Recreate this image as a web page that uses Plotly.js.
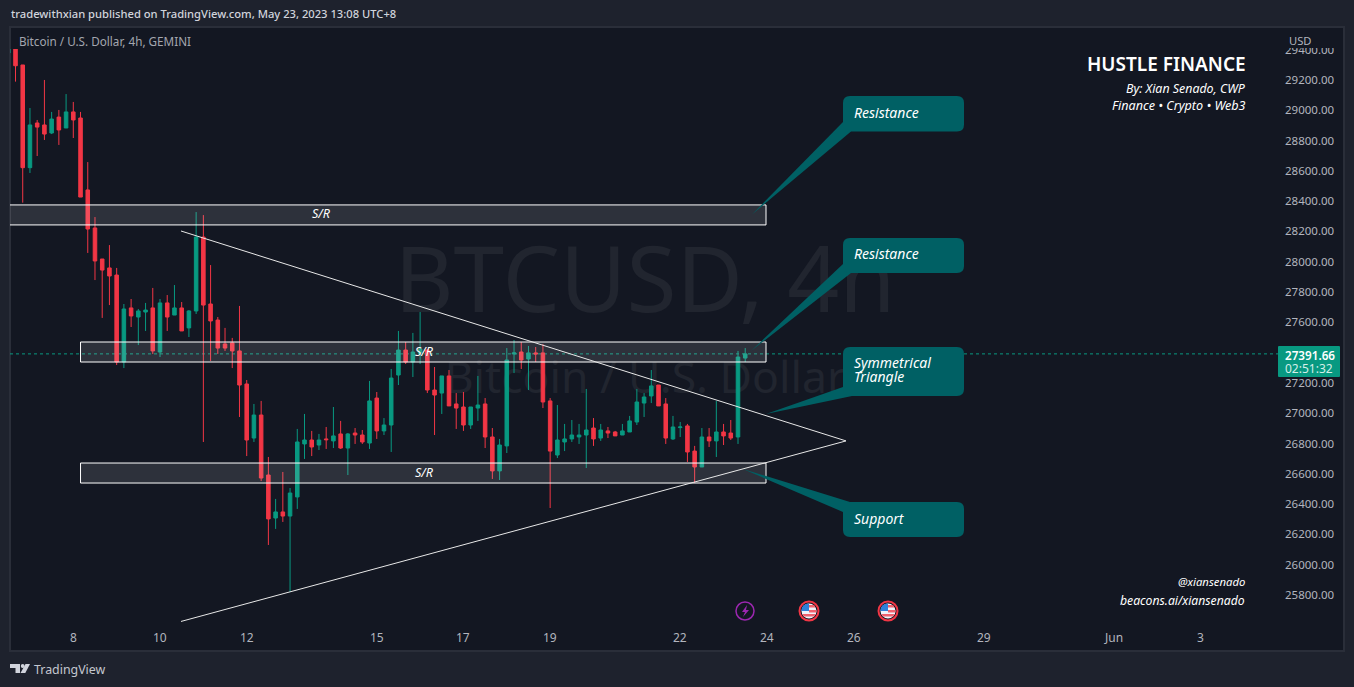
<!DOCTYPE html>
<html>
<head>
<meta charset="utf-8">
<script src="https://cdn.plot.ly/plotly-3.0.1.min.js"></script>
<style>html,body{margin:0;padding:0;background:#1e222d;overflow:hidden}#chart{width:1354px;height:687px}</style>
</head>
<body>
<div id="chart"></div>
<script>
const times = [
'2023-05-06 12:00','2023-05-06 16:00','2023-05-06 20:00',
'2023-05-07 00:00','2023-05-07 04:00','2023-05-07 08:00','2023-05-07 12:00','2023-05-07 16:00','2023-05-07 20:00',
'2023-05-08 00:00','2023-05-08 04:00','2023-05-08 08:00','2023-05-08 12:00','2023-05-08 16:00','2023-05-08 20:00',
'2023-05-09 00:00','2023-05-09 04:00','2023-05-09 08:00','2023-05-09 12:00','2023-05-09 16:00','2023-05-09 20:00',
'2023-05-10 00:00','2023-05-10 04:00','2023-05-10 08:00','2023-05-10 12:00','2023-05-10 16:00','2023-05-10 20:00',
'2023-05-11 00:00','2023-05-11 04:00','2023-05-11 08:00','2023-05-11 12:00','2023-05-11 16:00','2023-05-11 20:00',
'2023-05-12 00:00','2023-05-12 04:00','2023-05-12 08:00','2023-05-12 12:00','2023-05-12 16:00','2023-05-12 20:00',
'2023-05-13 00:00','2023-05-13 04:00','2023-05-13 08:00','2023-05-13 12:00','2023-05-13 16:00','2023-05-13 20:00',
'2023-05-14 00:00','2023-05-14 04:00','2023-05-14 08:00','2023-05-14 12:00','2023-05-14 16:00','2023-05-14 20:00',
'2023-05-15 00:00','2023-05-15 04:00','2023-05-15 08:00','2023-05-15 12:00','2023-05-15 16:00','2023-05-15 20:00',
'2023-05-16 00:00','2023-05-16 04:00','2023-05-16 08:00','2023-05-16 12:00','2023-05-16 16:00','2023-05-16 20:00',
'2023-05-17 00:00','2023-05-17 04:00','2023-05-17 08:00','2023-05-17 12:00','2023-05-17 16:00','2023-05-17 20:00',
'2023-05-18 00:00','2023-05-18 04:00','2023-05-18 08:00','2023-05-18 12:00','2023-05-18 16:00','2023-05-18 20:00',
'2023-05-19 00:00','2023-05-19 04:00','2023-05-19 08:00','2023-05-19 12:00','2023-05-19 16:00','2023-05-19 20:00',
'2023-05-20 00:00','2023-05-20 04:00','2023-05-20 08:00','2023-05-20 12:00','2023-05-20 16:00','2023-05-20 20:00',
'2023-05-21 00:00','2023-05-21 04:00','2023-05-21 08:00','2023-05-21 12:00','2023-05-21 16:00','2023-05-21 20:00',
'2023-05-22 00:00','2023-05-22 04:00','2023-05-22 08:00','2023-05-22 12:00','2023-05-22 16:00','2023-05-22 20:00',
'2023-05-23 00:00','2023-05-23 04:00','2023-05-23 08:00','2023-05-23 12:00'];
const opens = [29378,29500,29299,28621,28916,28903,28850,28955,28883,28989,28949,28474,28223,28018,27959,27912,27338,27695,27635,27668,27695,27404,27728,27648,27695,27563,27675,28163,27721,27615,27457,27464,27411,27193,26836,26988,26592,26308,26348,26321,26447,26797,26823,26790,26830,26817,26863,26770,26869,26856,26803,27100,26883,26922,27252,27417,27338,27398,27417,27153,27133,27246,27061,27041,26922,27034,27061,26843,26619,26784,27391,27404,27358,27398,27398,27081,26724,26810,26830,26843,26856,26902,26836,26883,26876,26856,26876,26942,27067,27114,27186,27061,26830,26905,26916,26750,26645,26843,26817,26876,26869,26843,27364];
const highs = [29500,29520,29299,29015,28936,29200,28989,29002,29107,29055,28989,28658,28295,28018,28110,27959,27721,27754,27688,27728,27827,27754,27780,27846,27734,27681,28328,28308,27978,27635,27563,27497,27708,27219,27061,27081,26711,26434,26612,26506,26896,26995,26883,26863,26909,27041,26949,26869,26902,26889,27213,27140,26968,27292,27543,27470,27530,27668,27424,27305,27246,27285,27133,27140,27041,27246,27100,26902,26830,27430,27483,27470,27444,27437,27457,27100,27054,26929,26955,26929,27160,26968,26929,26909,26883,26929,26982,27160,27133,27285,27186,27100,26982,26942,26929,26784,26902,26902,27081,26929,26955,27411,27430];
const lows = [29378,29189,28390,28586,28698,28804,28843,28771,28883,28817,28427,28058,27879,27629,27714,27318,27298,27569,27450,27543,27391,27371,27543,27648,27543,27503,27655,26810,27345,27391,27411,27298,26975,26717,26810,26552,26130,26236,26282,25820,26368,26698,26717,26757,26764,26770,26764,26592,26797,26797,26764,26830,26856,26744,27186,27325,27239,27325,27133,26856,26995,27048,26896,26883,26896,26949,26770,26566,26559,26737,27265,27292,27153,27338,27034,26374,26704,26750,26810,26797,26638,26784,26817,26836,26850,26856,26876,26922,26975,27067,27048,26797,26823,26843,26678,26539,26645,26777,26711,26790,26823,26797,27338];
const closes = [29500,29294,28621,28903,28889,28843,28942,28870,28989,28936,28427,28216,28005,27945,27906,27338,27688,27642,27675,27681,27411,27728,27635,27695,27543,27675,28163,27714,27609,27430,27430,27411,27186,26823,26988,26572,26302,26348,26321,26473,26810,26823,26777,26823,26825,26850,26770,26863,26856,26810,27081,26883,26922,27232,27417,27338,27404,27424,27153,27120,27246,27048,27034,26922,27041,27054,26843,26619,26790,27351,27398,27351,27398,27391,27074,26750,26823,26830,26856,26856,26889,26830,26889,26869,26850,26883,26949,27074,27107,27180,27048,26836,26909,26909,26744,26645,26843,26817,26876,26850,26836,27371,27391.66];

const priceTicks = [25800,26000,26200,26400,26600,26800,27000,27200,27400,27600,27800,28000,28200,28400,28600,28800,29000,29200,29400];
const dateTicks = ['2023-05-08','2023-05-10','2023-05-12','2023-05-15','2023-05-17','2023-05-19','2023-05-22','2023-05-24','2023-05-26','2023-05-29','2023-06-01','2023-06-03'];
const dateLabels = ['8','10','12','15','17','19','22','24','26','29','Jun','3'];

const lastPrice = 27391.66;
const srZones = [
  {from:'2023-05-01 00:00', to:'2023-05-23 23:30', low:28243, high:28375, labelAt:'2023-05-13 17:20'},
  {from:'2023-05-08 04:00', to:'2023-05-23 23:30', low:27338, high:27470, labelAt:'2023-05-16 02:10'},
  {from:'2023-05-08 04:00', to:'2023-05-23 23:30', low:26539, high:26671, labelAt:'2023-05-16 02:10'}
];
const triangle = {start:'2023-05-10 11:37', apex:'2023-05-25 19:48', upper:28203, apexPrice:26817, lower:25625};

const GREEN='#089981', RED='#f23645', TEAL='#006064', FONT='"Noto Sans", sans-serif';
const PX0=10, PX1=1279, PY0=49, PY1=651;
const fx = p => (p-PX0)/(PX1-PX0);
const fy = p => (PY1-p)/(PY1-PY0);

function roundRect(x0,y0,x1,y1,r){
  const X=fx, Y=fy;
  return `M ${X(x0+r)} ${Y(y0)} L ${X(x1-r)} ${Y(y0)} Q ${X(x1)} ${Y(y0)} ${X(x1)} ${Y(y0+r)} L ${X(x1)} ${Y(y1-r)} Q ${X(x1)} ${Y(y1)} ${X(x1-r)} ${Y(y1)} L ${X(x0+r)} ${Y(y1)} Q ${X(x0)} ${Y(y1)} ${X(x0)} ${Y(y1-r)} L ${X(x0)} ${Y(y0+r)} Q ${X(x0)} ${Y(y0)} ${X(x0+r)} ${Y(y0)} Z`;
}
function poly(pts){ return 'M '+pts.map(p=>fx(p[0])+' '+fy(p[1])).join(' L ')+' Z'; }
const pshape = (path,fill,extra) => Object.assign({type:'path',xref:'paper',yref:'paper',path,fillcolor:fill,line:{width:0}},extra||{});
function circle(cx,cy,r,fill,lineColor,lw){
  return {type:'circle',xref:'paper',yref:'paper',x0:fx(cx-r),x1:fx(cx+r),y0:fy(cy+r),y1:fy(cy-r),fillcolor:fill,line:{color:lineColor,width:lw}};
}
function flag(cx,cy){
  return [
    circle(cx,cy,9.5,'#131722',RED,2),
    circle(cx,cy,7.5,'#f0f3fa','#f0f3fa',0),
    pshape(`M ${fx(cx)} ${fy(cy)} L ${fx(cx)} ${fy(cy-7.5)} Q ${fx(cx-7.5)} ${fy(cy-7.5)} ${fx(cx-7.5)} ${fy(cy)} Z`,'#2f80d8'),
    pshape(poly([[cx,cy-6],[cx+5,cy-6],[cx+6.5,cy-3.5],[cx,cy-3.5]]),'#f0626e'),
    pshape(poly([[cx,cy-1],[cx+7.4,cy-1],[cx+7.4,cy+1.5],[cx,cy+1.5]]),'#f0626e'),
    pshape(poly([[cx-6.8,cy+3],[cx+6.8,cy+3],[cx+5,cy+5.4],[cx-5,cy+5.4]]),'#f0626e')
  ];
}
const callouts = [
  {box:[843,96,964,131.5], tail:[[843,122],[851,131.5],[752,214.5]], lines:[['Resistance',112.3]]},
  {box:[843,238,964,273], tail:[[843,264],[851,273],[751,351]], lines:[['Resistance',253.5]]},
  {box:[843,347,964,396], tail:[[843,387],[852,396],[766,414]], lines:[['Symmetrical',362.5],['Triangle',376.5]]},
  {box:[843,502,964,537], tail:[[850,502],[843,512],[743,469]], lines:[['Support',518.5]]}
];

const shapes = [
  pshape(poly([[10,27],[1344,27],[1344,651],[10,651]]),'#131722',{layer:'below',line:{color:'#2a2e39',width:2}}),
  {type:'line',xref:'paper',yref:'y2',x0:0,x1:1,y0:lastPrice,y1:lastPrice,line:{color:GREEN,width:1,dash:'dot'},layer:'below'}
];
srZones.forEach(z=>shapes.push({type:'rect',xref:'x2',yref:'y2',x0:z.from,x1:z.to,y0:z.low,y1:z.high,fillcolor:'rgba(255,255,255,0.115)',line:{color:'#ffffff',width:1},layer:'above'}));
shapes.push({type:'line',xref:'x2',yref:'y2',x0:triangle.start,x1:triangle.apex,y0:triangle.upper,y1:triangle.apexPrice,line:{color:'#e8e8e8',width:1},layer:'above'});
shapes.push({type:'line',xref:'x2',yref:'y2',x0:triangle.start,x1:triangle.apex,y0:triangle.lower,y1:triangle.apexPrice,line:{color:'#e8e8e8',width:1},layer:'above'});
callouts.forEach(c=>{
  shapes.push(pshape(poly(c.tail),TEAL));
  shapes.push(pshape(roundRect(c.box[0],c.box[1],c.box[2],c.box[3],7),TEAL));
});
shapes.push(pshape(poly([[1280,28],[1343,28],[1343,48],[1280,48]]),'#131722'));
shapes.push(pshape(roundRect(1278,346,1340,377,1),GREEN));
shapes.push(circle(745,611,9,'rgba(0,0,0,0)','#9c27b0',1.5));
shapes.push(pshape(poly([[747,605],[742,612],[745,612],[743,617],[749,610],[746,610]]),'#9c27b0'));
shapes.push(...flag(809,611), ...flag(888,611));
shapes.push(pshape(poly([[10,664],[20,664],[20,673],[15.5,673],[15.5,668],[10,668]]),'#d1d4dc'));
shapes.push(circle(22.7,666,1.9,'#d1d4dc','#d1d4dc',0));
shapes.push(pshape(poly([[25.5,664],[30,664],[25.3,673],[20.5,673]]),'#d1d4dc'));

function txt(text,x,y,o){
  o=o||{};
  return {xref:'paper',yref:'paper',x:fx(x),y:fy(y),text,showarrow:false,
    xanchor:o.anchor||'left',yanchor:'middle',borderpad:0,
    font:{family:FONT,size:o.size||12,color:o.color||'#ffffff',style:o.italic?'italic':'normal',weight:o.weight||400}};
}
const annotations = [
  txt('tradewithxian published on TradingView.com, May 23, 2023 13:08 UTC+8',10,14,{size:11.2,color:'#d1d4dc',weight:500}),
  txt('Bitcoin / U.S. Dollar, 4h, GEMINI',17.5,41,{size:11.7,color:'#a3a6af'}),
  txt('USD',1288,40,{size:11.2,color:'#b2b5be'}),
  txt('HUSTLE FINANCE',1247,64,{size:19,weight:600,anchor:'right'}),
  txt('By: Xian Senado, CWP',1247,88,{size:12.4,italic:true,anchor:'right'}),
  txt('Finance • Crypto • Web3',1247,105,{size:12.6,italic:true,anchor:'right'}),
  txt('@xiansenado',1246,581,{size:11.3,italic:true,anchor:'right'}),
  txt('beacons.ai/xiansenado',1246,600,{size:12.2,italic:true,anchor:'right'}),
  txt('27391.66',1310,355,{size:11.7,weight:600,anchor:'center'}),
  txt('02:51:32',1309,369,{size:12,color:'#d5efe9',anchor:'center'}),
  txt('TradingView',33,669.5,{size:12.4,color:'#c4c7cf'})
];
callouts.forEach(c=>c.lines.forEach(l=>annotations.push(txt(l[0],852.5,l[1],{size:14,italic:true}))));
srZones.forEach(z=>annotations.push({xref:'x2',yref:'y2',x:z.labelAt,y:(z.low+z.high)/2,yshift:1,text:'S/R',showarrow:false,borderpad:0,
  font:{family:FONT,size:12.5,color:'#ffffff',style:'italic'}}));
dateTicks.forEach((d,i)=>annotations.push({xref:'x2',yref:'paper',x:d,y:fy(637),text:dateLabels[i],showarrow:false,borderpad:0,
  xanchor:'center',yanchor:'middle',font:{family:FONT,size:12,color:'#b2b5be'}}));

const watermarkLarge = {type:'scatter',mode:'text',xaxis:'x',yaxis:'y',x:[fx(645)],y:[fy(289)],text:['BTCUSD, 4h'],
  textposition:'middle center',textfont:{family:FONT,size:91,color:'#21252f'},hoverinfo:'skip',showlegend:false,cliponaxis:false};
const watermarkSmall = {type:'scatter',mode:'text',xaxis:'x',yaxis:'y',x:[fx(645)],y:[fy(382)],text:['Bitcoin / U.S. Dollar'],
  textposition:'middle center',textfont:{family:FONT,size:44.5,color:'#21252f'},hoverinfo:'skip',showlegend:false,cliponaxis:false};
const candles = {type:'candlestick',xaxis:'x2',yaxis:'y2',x:times,open:opens,high:highs,low:lows,close:closes,
  increasing:{line:{color:GREEN,width:1},fillcolor:GREEN},
  decreasing:{line:{color:RED,width:1},fillcolor:RED},
  whiskerwidth:0,hoverinfo:'skip',showlegend:false};

const layout = {
  width:1354,height:687,
  margin:{l:PX0,r:1354-PX1,t:PY0,b:687-PY1,pad:0},
  paper_bgcolor:'#1e222d',plot_bgcolor:'rgba(0,0,0,0)',
  showlegend:false,hovermode:false,dragmode:false,
  xaxis:{visible:false,range:[0,1],fixedrange:true},
  yaxis:{visible:false,range:[0,1],fixedrange:true},
  xaxis2:{overlaying:'x',anchor:'y2',type:'date',range:['2023-05-06 12:57','2023-06-04 19:31'],
    showticklabels:false,showgrid:false,zeroline:false,showline:false,ticks:'',rangeslider:{visible:false},fixedrange:true},
  yaxis2:{overlaying:'y',anchor:'x2',side:'right',range:[25430,29404.5],
    tickmode:'array',tickvals:priceTicks,tickformat:'.2f',showgrid:false,zeroline:false,showline:false,ticks:'',
    ticklabelstandoff:5,tickfont:{family:FONT,size:11.5,color:'#b2b5be'},fixedrange:true},
  shapes,annotations
};
Plotly.newPlot('chart',[watermarkLarge,watermarkSmall,candles],layout,{displayModeBar:false,staticPlot:true});
</script>
</body>
</html>
